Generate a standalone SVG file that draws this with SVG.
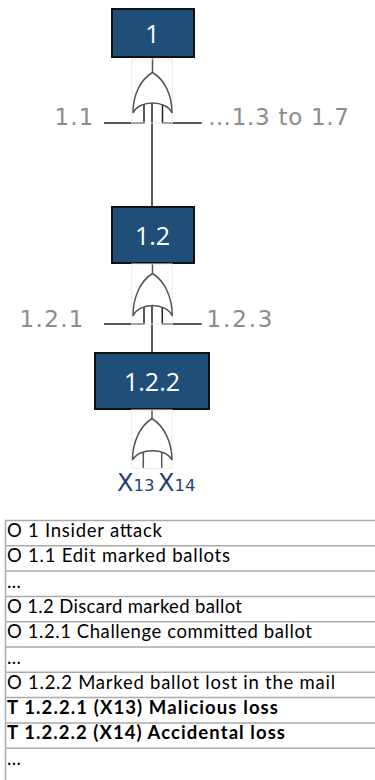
<svg xmlns="http://www.w3.org/2000/svg" width="375" height="780" viewBox="0 0 375 780">
<style>
.box{fill:#1f4e79;stroke:#111;stroke-width:2}
.bl{font-family:"Open Sans","Liberation Sans",sans-serif;font-size:25px;fill:#fff;text-anchor:middle}
.gate{fill:#fff;stroke:#555;stroke-width:1.5}
.bb{fill:none;stroke:#ececec;stroke-width:1}
.ln{stroke:#222;stroke-width:1.5;fill:none}
.gl{stroke:#555;stroke-width:1.5;fill:none}
.lab{font-family:"DejaVu Sans","Verdana",sans-serif;font-size:23px;fill:#8c8c8c}
.x{font-family:"DejaVu Sans","Verdana",sans-serif;fill:#1f3f73}
.row{stroke:#aaa;stroke-width:1.5}
.t{font-family:"Lato","Open Sans",sans-serif;font-size:18.5px;fill:#000}
.tb{font-weight:bold}
</style>
<rect width="375" height="780" fill="#fff"/>
<g id="connectors">
  <line class="gl" x1="152.5" y1="57" x2="152.5" y2="73"/>
  <line class="ln" x1="152" y1="103" x2="152" y2="207"/>
  <polyline class="ln" points="104,123 144,123 144,105"/>
  <polyline class="ln" points="201.7,123 162.5,123 162.5,105"/>
  <line class="gl" x1="152.5" y1="263" x2="152.5" y2="274"/>
  <line class="ln" x1="152" y1="303" x2="152" y2="353"/>
  <polyline class="ln" points="104,324 144,324 144,306"/>
  <polyline class="ln" points="201.7,324 162.3,324 162.3,306"/>
  <line class="gl" x1="152" y1="409" x2="152" y2="419"/>
  <line class="gl" x1="143.3" y1="452" x2="143.3" y2="468.3"/>
  <line class="gl" x1="161.7" y1="452" x2="161.7" y2="468.3"/>
</g>
<g id="n1">
  <rect class="box" x="112" y="9" width="82" height="48"/>
  <text class="bl" x="152.5" y="43.3">1</text>
</g>
<g id="g1">
  <rect class="bb" x="131.7" y="59" width="40.6" height="64"/>
  <path class="gate" d="M133,113 C133,95 140,80 152.5,72.5 C165,80 172,95 172,113 C166,99.7 139,99.7 133,113 Z"/>
</g>
<g id="n11"><text class="lab" x="54.5" y="125" textLength="39">1.1</text></g>
<g id="n13"><text class="lab" x="208" y="125" textLength="141">…1.3 to 1.7</text></g>
<g id="n12">
  <rect class="box" x="112" y="207" width="82" height="56"/>
  <text class="bl" x="152.5" y="245">1.2</text>
</g>
<g id="g2">
  <rect class="bb" x="131.7" y="264" width="40.6" height="60"/>
  <path class="gate" d="M133,316 C133,298 140,281 152.5,273.5 C165,281 172.3,298 172.3,316 C166,302 139,302 133,316 Z"/>
</g>
<g id="n121"><text class="lab" x="19.5" y="327" textLength="64">1.2.1</text></g>
<g id="n123"><text class="lab" x="206.5" y="327" textLength="66">1.2.3</text></g>
<g id="n122">
  <rect class="box" x="95" y="353" width="114" height="56"/>
  <text class="bl" x="152" y="391">1.2.2</text>
</g>
<g id="g3">
  <rect class="bb" x="131.7" y="410" width="40.3" height="58.3"/>
  <path class="gate" d="M132.5,460 C132.5,442 140,426 152,418.5 C164,426 172,442 172,460 C166,447.5 139,447.5 132.5,460 Z"/>
</g>
<g id="x13"><text class="x" x="117" y="490.7"><tspan font-size="24">X</tspan><tspan font-size="16.5">13</tspan></text></g>
<g id="x14"><text class="x" x="158" y="490.7"><tspan font-size="24">X</tspan><tspan font-size="16.5">14</tspan></text></g>
<g id="table">
  <line class="row" x1="5.5" y1="520.5" x2="5.5" y2="780"/>
  <line class="row" x1="5" y1="520.5" x2="375" y2="520.5"/>
  <line class="row" x1="5" y1="545.8" x2="375" y2="545.8"/>
  <line class="row" x1="5" y1="571.1" x2="375" y2="571.1"/>
  <line class="row" x1="5" y1="596.4" x2="375" y2="596.4"/>
  <line class="row" x1="5" y1="621.7" x2="375" y2="621.7"/>
  <line class="row" x1="5" y1="647" x2="375" y2="647"/>
  <line class="row" x1="5" y1="672.3" x2="375" y2="672.3"/>
  <line class="row" x1="5" y1="697.6" x2="375" y2="697.6"/>
  <line class="row" x1="5" y1="722.9" x2="375" y2="722.9"/>
  <line class="row" x1="5" y1="748.2" x2="375" y2="748.2"/>
  <text class="t" x="7" y="537" textLength="155">O 1 Insider attack</text>
  <text class="t" x="7" y="562.3" textLength="223">O 1.1 Edit marked ballots</text>
  <text class="t" x="7" y="587.6">…</text>
  <text class="t" x="7" y="612.9" textLength="235">O 1.2 Discard marked ballot</text>
  <text class="t" x="7" y="638.2" textLength="305">O 1.2.1 Challenge committed ballot</text>
  <text class="t" x="7" y="663.5">…</text>
  <text class="t" x="7" y="688.8" textLength="328">O 1.2.2 Marked ballot lost in the mail</text>
  <text class="t tb" x="7" y="714.1" textLength="271">T 1.2.2.1 (X13) Malicious loss</text>
  <text class="t tb" x="7" y="739.4" textLength="278">T 1.2.2.2 (X14) Accidental loss</text>
  <text class="t" x="7" y="764.7">…</text>
</g>
</svg>
